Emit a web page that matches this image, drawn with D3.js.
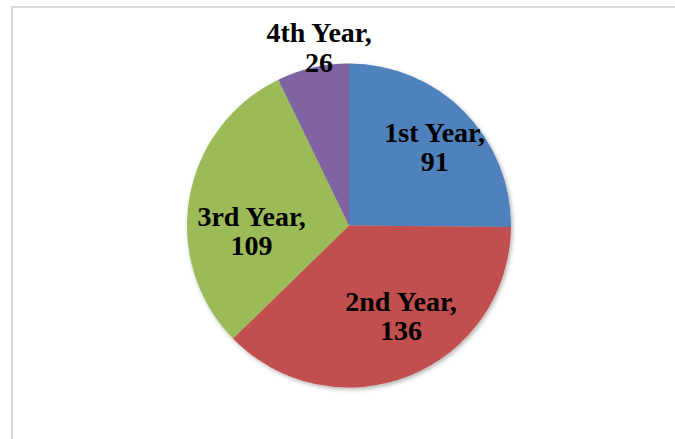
<!DOCTYPE html>
<html><head><meta charset="utf-8">
<script src="https://cdn.jsdelivr.net/npm/d3@7"></script>
<style>html,body{margin:0;padding:0;background:#fff;}</style>
</head><body>
<svg id="chart" width="675" height="439"></svg>
<script>
const categories = ["1st Year", "2nd Year", "3rd Year", "4th Year"];
const values = [91, 136, 109, 26];
const colors = ["#4F81BD", "#C0504D", "#9BBB59", "#8064A2"];

const W = 675, H = 439;
const cx = 349, cy = 225.5, R = 162;
// label nudges (layout only) relative to centroid at 0.68R
const labelNudge = [[7.4, -6.1], [11, -16.9], [11.1, 19.1], [-5.3, -76]];

const svg = d3.select("#chart");
svg.append("rect").attr("x", 0).attr("y", 0).attr("width", W).attr("height", H).attr("fill", "#fff");
svg.append("rect").attr("x", 12).attr("y", 7).attr("width", W + 20).attr("height", H + 20)
  .attr("fill", "none").attr("stroke", "#d9d9d9").attr("stroke-width", 2);

const defs = svg.append("defs");
const f = defs.append("filter").attr("id", "sh").attr("x", "-20%").attr("y", "-20%").attr("width", "140%").attr("height", "140%");
f.append("feDropShadow").attr("dx", 1.5).attr("dy", 2).attr("stdDeviation", 2.2)
  .attr("flood-color", "#000").attr("flood-opacity", 0.3);

const pie = d3.pie().sort(null).value(d => d)(values);
const arc = d3.arc().innerRadius(0).outerRadius(R);
const labelArc = d3.arc().innerRadius(R * 0.68).outerRadius(R * 0.68);

const g = svg.append("g").attr("transform", `translate(${cx},${cy})`);
g.append("g").attr("filter", "url(#sh)")
  .selectAll("path").data(pie).join("path")
  .attr("d", arc).attr("fill", (d, i) => colors[i]);

const lg = g.append("g");
pie.forEach((d, i) => {
  const c = labelArc.centroid(d);
  const x = c[0] + labelNudge[i][0], y = c[1] + labelNudge[i][1];
  const t = lg.append("text").attr("text-anchor", "middle")
    .attr("font-family", "'Times New Roman', 'Liberation Serif', serif")
    .attr("font-weight", "bold").attr("font-size", "28px").attr("fill", "#000");
  t.append("tspan").attr("x", x).attr("y", y).text(categories[i] + ",");
  t.append("tspan").attr("x", x).attr("y", y + 29.5).text(values[i]);
});
</script>
</body></html>
